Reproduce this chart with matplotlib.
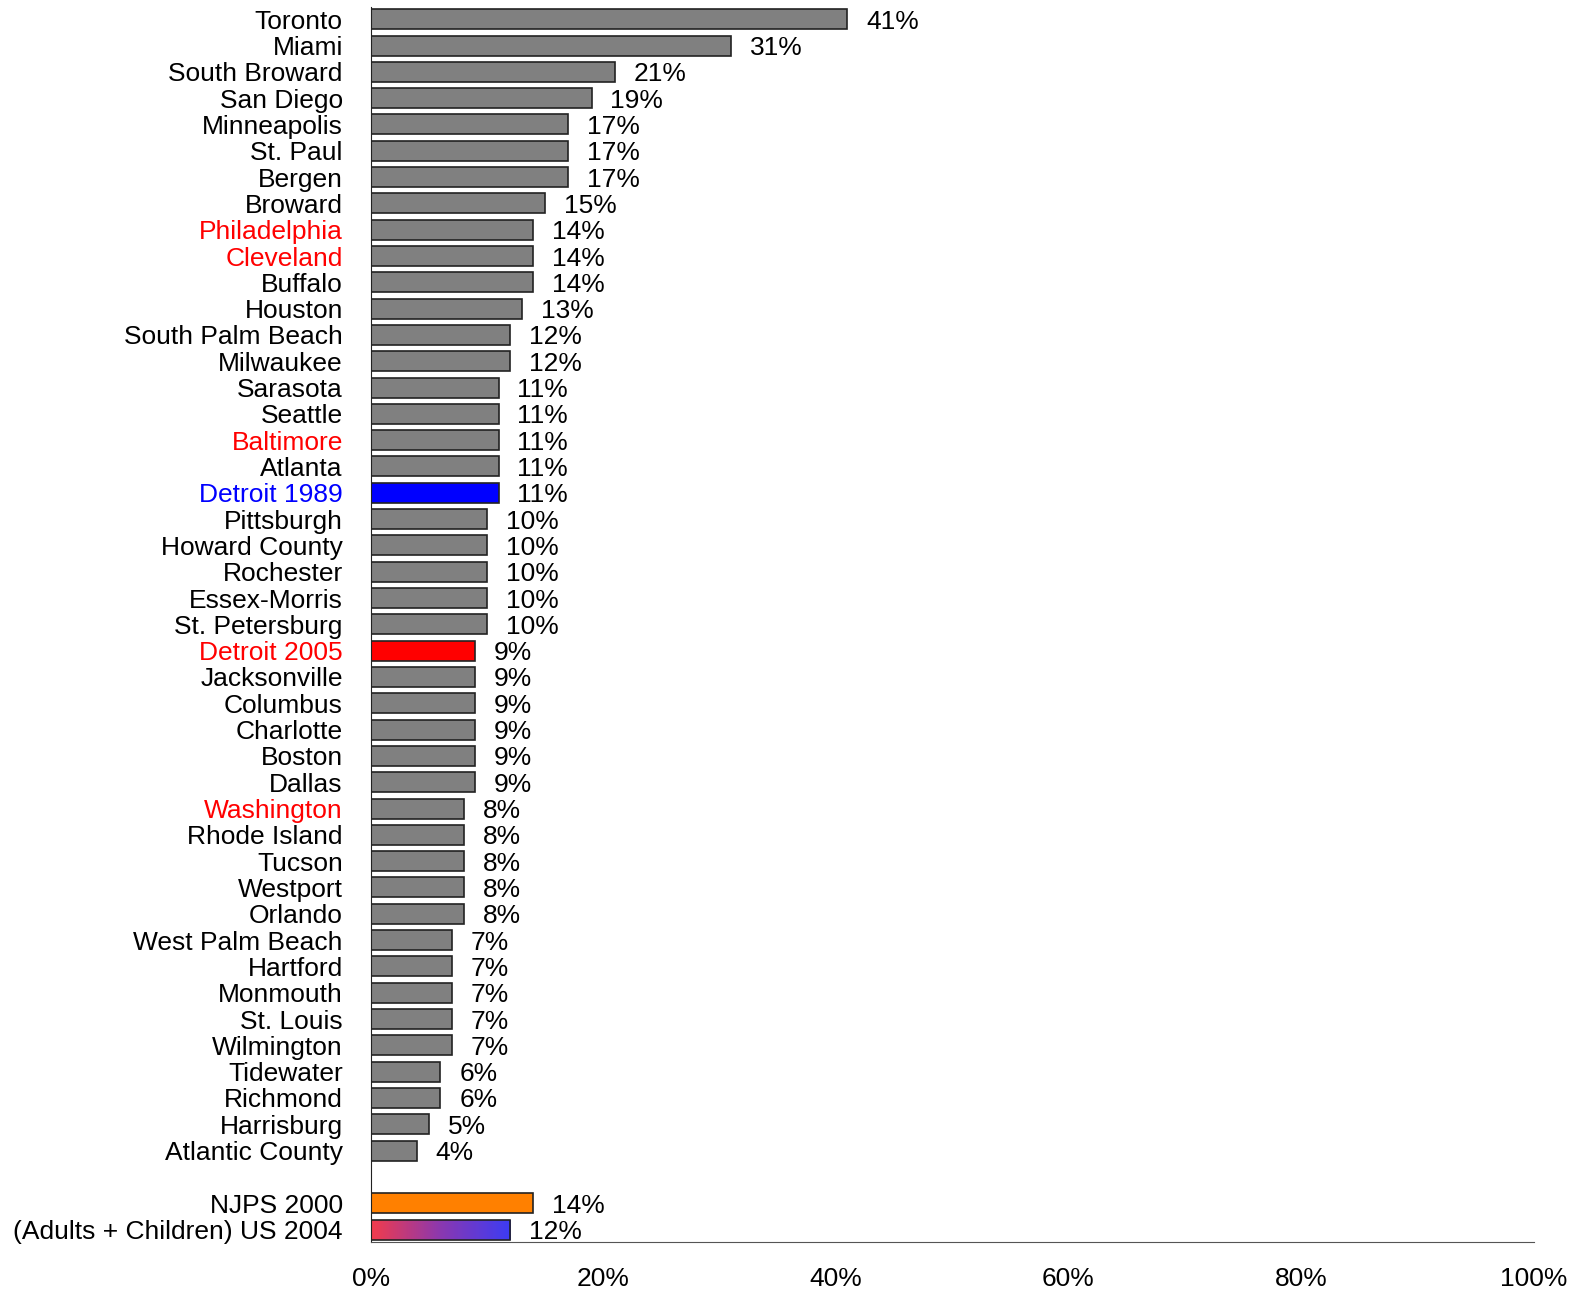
import numpy as np
import matplotlib
matplotlib.use('Agg')
import matplotlib.pyplot as plt
from matplotlib.colors import LinearSegmentedColormap

plt.rcParams['font.family'] = ['Liberation Sans', 'DejaVu Sans']

# data
cities = ['Toronto', 'Miami', 'South Broward', 'San Diego', 'Minneapolis', 'St. Paul',
          'Bergen', 'Broward', 'Philadelphia', 'Cleveland', 'Buffalo', 'Houston',
          'South Palm Beach', 'Milwaukee', 'Sarasota', 'Seattle', 'Baltimore', 'Atlanta',
          'Detroit 1989', 'Pittsburgh', 'Howard County', 'Rochester', 'Essex-Morris',
          'St. Petersburg', 'Detroit 2005', 'Jacksonville', 'Columbus', 'Charlotte',
          'Boston', 'Dallas', 'Washington', 'Rhode Island', 'Tucson', 'Westport',
          'Orlando', 'West Palm Beach', 'Hartford', 'Monmouth', 'St. Louis',
          'Wilmington', 'Tidewater', 'Richmond', 'Harrisburg', 'Atlantic County']
city_values = [41, 31, 21, 19, 17, 17, 17, 15, 14, 14, 14, 13, 12, 12, 11, 11, 11, 11,
               11, 10, 10, 10, 10, 10, 9, 9, 9, 9, 9, 9, 8, 8, 8, 8, 8, 7, 7, 7, 7, 7,
               6, 6, 5, 4]
national = ['NJPS 2000', '(Adults + Children) US 2004']
national_values = [14, 12]
x_ticks = [0, 20, 40, 60, 80, 100]

red_labels = ['Philadelphia', 'Cleveland', 'Baltimore', 'Detroit 2005', 'Washington']
blue_labels = ['Detroit 1989']
bar_colors = {'Detroit 1989': '#0000ff', 'Detroit 2005': '#ff0000', 'NJPS 2000': '#ff8000'}

labels = cities + national
values = city_values + national_values
positions = list(range(len(cities))) + [len(cities) + 1, len(cities) + 2]

fs = 19

fig = plt.figure(figsize=(15.79, 12.92), dpi=100)
ax = fig.add_axes([0.2347, 0.0390, 0.7366, 0.9555])

colors = [bar_colors.get(l, '#808080') for l in labels]
bars = ax.barh(positions, values, height=0.76, color=colors,
               edgecolor='#222222', linewidth=1.2)

# gradient fill for the last bar
grad_bar = bars[-1]
grad_bar.set_facecolor('none')
cmap = LinearSegmentedColormap.from_list('rb', ['#f23c4c', '#8a38b0', '#3c3cf5'])
x0, y0 = grad_bar.get_x(), grad_bar.get_y()
w, h = grad_bar.get_width(), grad_bar.get_height()
img = ax.imshow(np.linspace(0, 1, 256).reshape(1, -1), cmap=cmap, aspect='auto',
                extent=[x0, x0 + w, y0 + h, y0], zorder=1.5)
img.set_clip_path(grad_bar)
grad_bar.set_zorder(2)

for pos, v in zip(positions, values):
    ax.annotate(f'{v}%', (v, pos), xytext=(13.5, 0), textcoords='offset points',
                va='center_baseline', ha='left', fontsize=fs)

ax.set_ylim(len(cities) + 2.46, -0.46)
ax.set_xlim(0, 100)
ax.set_yticks(positions)
ax.set_yticklabels(labels, fontsize=fs)
for t in ax.get_yticklabels():
    if t.get_text() in red_labels:
        t.set_color('#ff0000')
    elif t.get_text() in blue_labels:
        t.set_color('#0000ff')
ax.set_xticks(x_ticks)
ax.set_xticklabels([f'{t}%' for t in x_ticks], fontsize=fs)
ax.tick_params(axis='both', length=0)
ax.tick_params(axis='y', pad=20)
ax.tick_params(axis='x', pad=18)

ax.spines['top'].set_visible(False)
ax.spines['right'].set_visible(False)
ax.spines['left'].set_color('#222222')
ax.spines['bottom'].set_color('#555555')

fig.savefig('out.png', dpi=100)
